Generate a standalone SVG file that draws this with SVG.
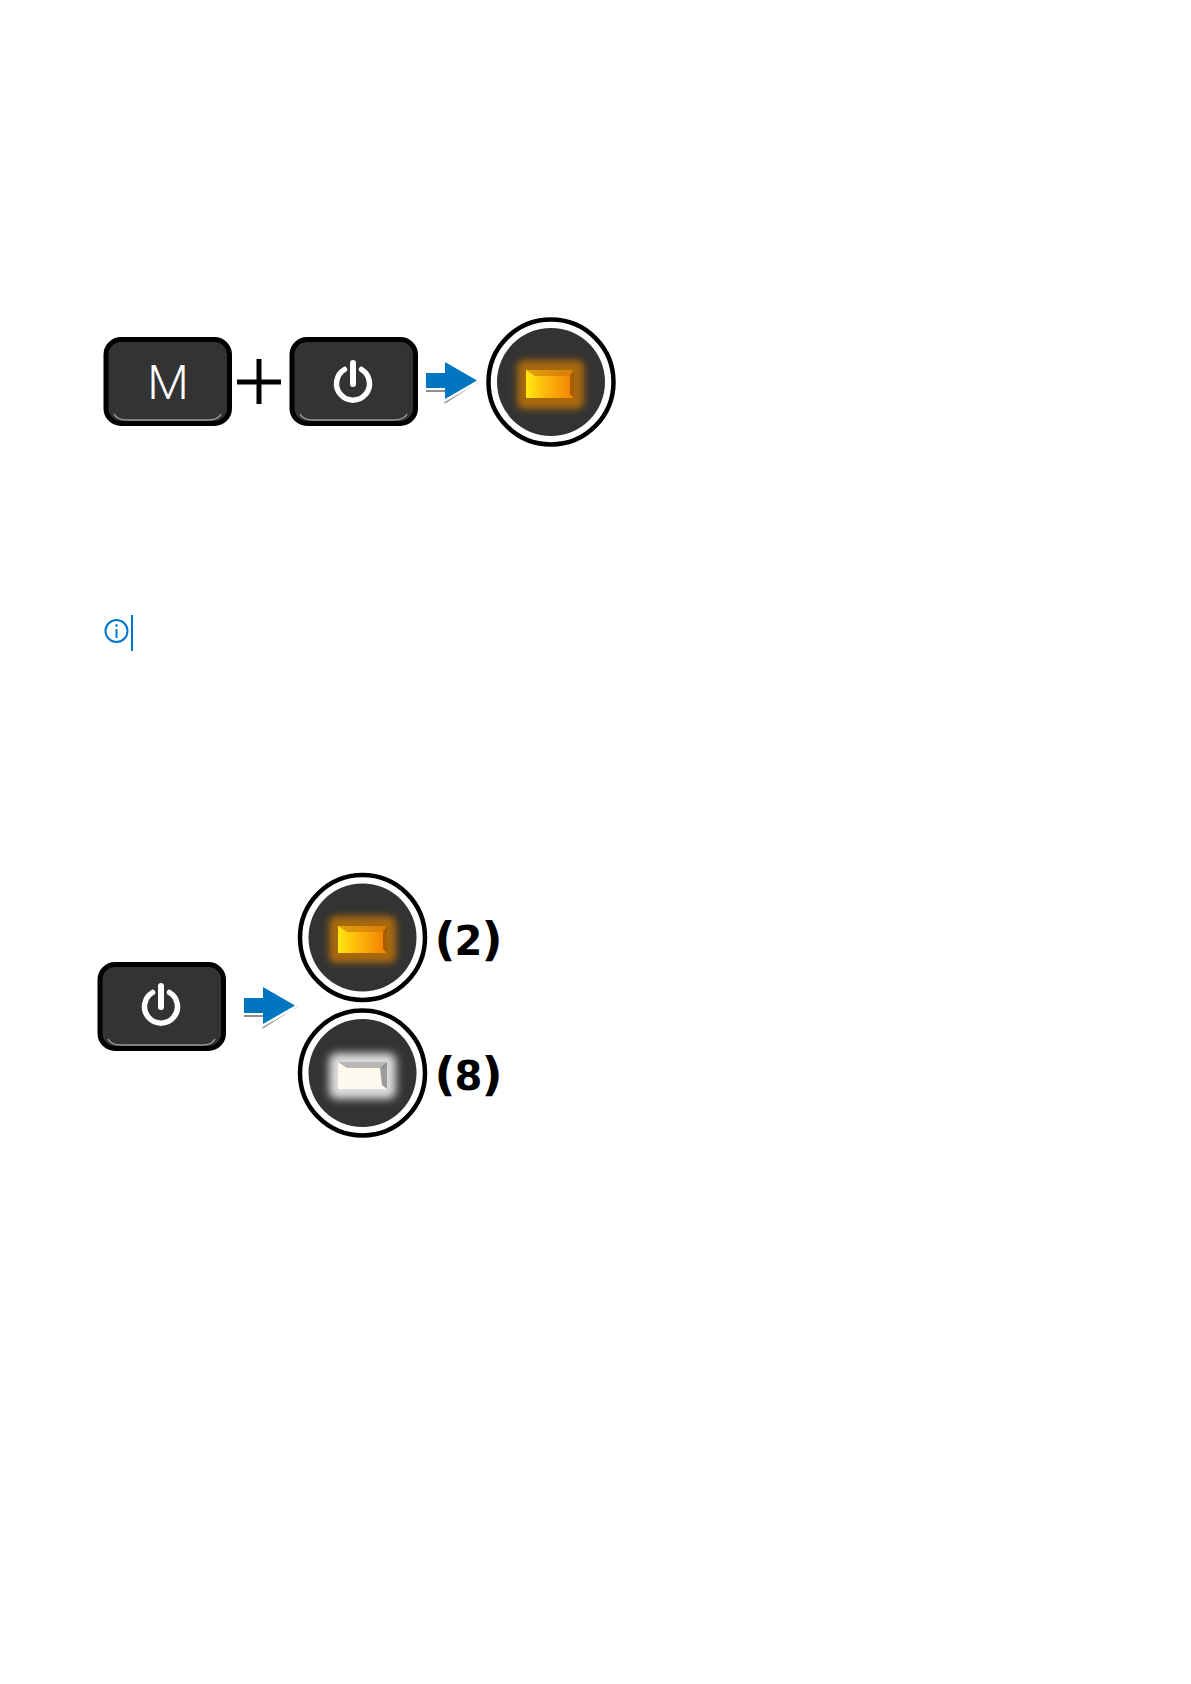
<svg xmlns="http://www.w3.org/2000/svg" width="1191" height="1684" viewBox="0 0 1191 1684">
<style>
.keyface{fill:#333333;stroke:#000;stroke-width:5}
.keylip{fill:none;stroke:#9a9a9a;stroke-width:1.5}
.pw{fill:none;stroke:#fff;stroke-linecap:round}
.ring{fill:#fff;stroke:#000;stroke-width:4.500}
.disc{fill:#333333}
.num{font-family:"DejaVu Sans",sans-serif;font-weight:700;font-size:40px;fill:#000}
.par{font-size:46px}
</style>
<defs>
<filter id="b3" x="-30%" y="-30%" width="160%" height="160%"><feGaussianBlur stdDeviation="3.500"/></filter>
<filter id="b5" x="-30%" y="-30%" width="160%" height="160%"><feGaussianBlur stdDeviation="4.500"/></filter>
<linearGradient id="amber" x1="0" x2="1" y1="0" y2="0"><stop offset="0" stop-color="#ffe812"/><stop offset="0.4" stop-color="#fdb80c"/><stop offset="1" stop-color="#f27f02"/></linearGradient>
<g id="key">
<rect class="keyface" x="3" y="2.500" width="123.500" height="84" rx="15"/>
<path class="keylip" d="M11 77q3 6 13 6h81q10 0 13-6"/>
</g>
<g id="power">
<path class="pw" stroke-width="5.500" d="M-8.500-14.500A16.500 16.500 0 1 0 8.500-14.500"/>
<path class="pw" stroke-width="6" d="M0-21V0"/>
</g>
<g id="arrow">
<path d="M0 17H19V19H0Z" fill="#8f8f8f"/>
<path d="M18.500 29L52 10 54.500 8 18.500 31Z" fill="#9a9a9a"/>
<path d="M0 0H19V-11L51 7.500 19 26V15H0Z" fill="#0076c0"/>
</g>
<g id="ledbase">
<circle r="62.500" class="ring"/>
<circle r="54" class="disc"/>
</g>
</defs>
<rect width="1191" height="1684" fill="#fff"/>
<g id="key-m">
<use href="#key" x="103" y="337"/>
<text x="168" y="399" text-anchor="middle" font-family="Roboto,sans-serif" font-weight="300" font-size="48" fill="#fff">M</text>
</g>
<g id="plus"><path d="M237 382H281M259 359V404" fill="none" stroke="#000" stroke-width="5"/></g>
<g id="key-power-1">
<use href="#key" x="289" y="337"/>
<use href="#power" x="353" y="384"/>
</g>
<g id="led-amber-1">
<use href="#ledbase" x="551" y="382"/>
<rect x="517" y="360" width="67" height="49" rx="7" fill="#a8690c" filter="url(#b3)"/>
<rect x="526" y="370" width="48" height="28" fill="url(#amber)"/>
<path d="M526 370H574V376H535Z" fill="#c8780a" opacity=".6"/>
<path d="M574 370V398L570 394V376Z" fill="#7a4405" opacity=".6"/>
</g>
<g id="info-icon">
<circle cx="116.500" cy="631" r="11" fill="none" stroke="#0076ce" stroke-width="2"/>
<path d="M116.500 629V638" stroke="#0076ce" stroke-width="2" fill="none"/>
<circle cx="116.500" cy="625.500" r="1.300" fill="#0076ce"/>
<path d="M132 615V651" stroke="#0076ce" stroke-width="2" fill="none"/>
</g>
<g id="key-power-2">
<use href="#key" x="97" y="962"/>
<use href="#power" x="161" y="1007"/>
</g>
<g id="led-amber-2">
<use href="#ledbase" x="362.500" y="937.500"/>
<rect x="329" y="916" width="67" height="47" rx="7" fill="#a8690c" filter="url(#b3)"/>
<rect x="338" y="926" width="49" height="27" fill="url(#amber)"/>
<path d="M338 926H387V932H347Z" fill="#c8780a" opacity=".6"/>
<path d="M387 926V953L383 949V932Z" fill="#7a4405" opacity=".6"/>
<text class="num" x="468.500" y="955" text-anchor="middle"><tspan class="par">(</tspan><tspan dx="-1">2</tspan><tspan class="par" dx="-1">)</tspan></text>
</g>
<g id="led-white">
<use href="#ledbase" x="362.500" y="1073"/>
<rect x="329" y="1053" width="67" height="46" rx="8" fill="#dcdcdc" filter="url(#b5)"/>
<rect x="338" y="1062" width="49" height="27" fill="#fdfaf0"/>
<path d="M338 1062H387V1068H347Z" fill="#9a9a9a" opacity=".7"/>
<path d="M387 1062V1089L382 1085 380 1068Z" fill="#8c8c8c" opacity=".85"/>
<text class="num" x="468.500" y="1090" text-anchor="middle"><tspan class="par">(</tspan><tspan dx="-1">8</tspan><tspan class="par" dx="-1">)</tspan></text>
</g>
<g id="connectors">
<use href="#arrow" x="426" y="373"/>
<use href="#arrow" x="244" y="998"/>
</g>
</svg>
